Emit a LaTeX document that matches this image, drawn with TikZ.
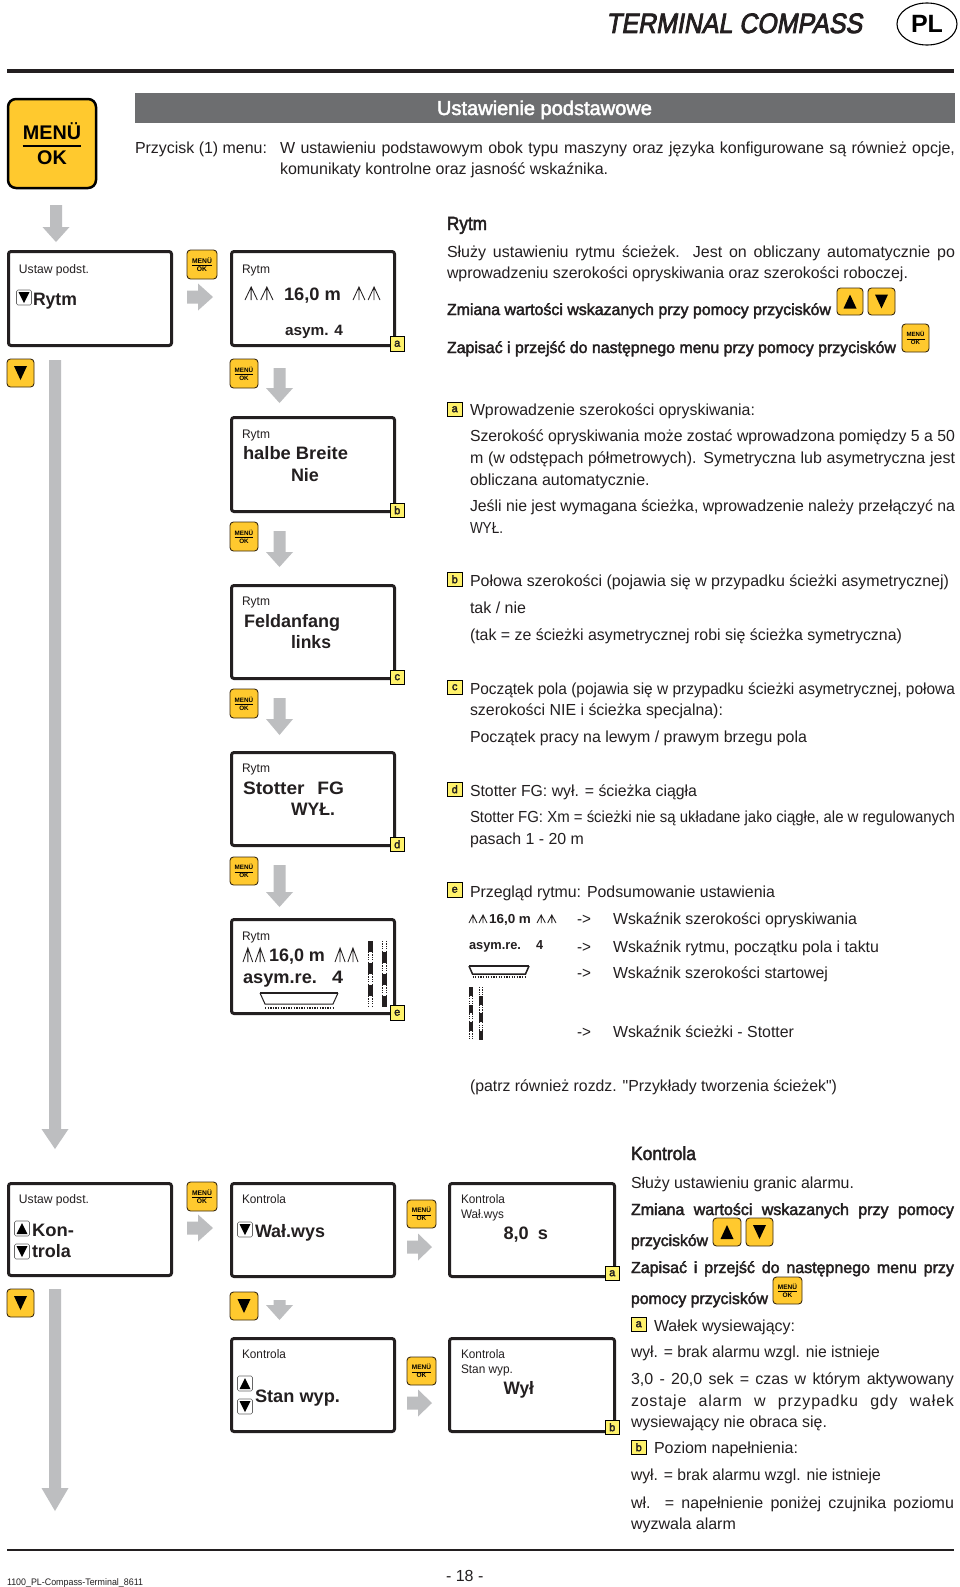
\documentclass[tikz,border=0pt]{standalone}
\usepackage{fontspec}
\usepackage{graphicx}
\usetikzlibrary{shapes.geometric}
\setmainfont{Liberation Sans}
\newfontfamily\plainq{Liberation Sans}
\newfontfamily\fakeb[FakeBold=2.4]{Liberation Sans}
\newfontfamily\titlef[FakeBold=3.2,FakeSlant=0.2]{Liberation Sans}
\definecolor{ink}{HTML}{231F20}
\definecolor{btnyel}{HTML}{FFC92E}
\definecolor{btnedge}{HTML}{3A2A10}
\definecolor{tagyel}{HTML}{FFF26B}
\definecolor{arrgray}{HTML}{BDBEC0}
\definecolor{headgray}{HTML}{6D6E70}
\newcounter{tn}
\newsavebox\fitsave
\newcommand\fitbox[2]{\sbox\fitsave{#2}\ifdim\wd\fitsave>#1pt\relax\resizebox{#1pt}{\height}{\usebox\fitsave}\else\makebox[#1pt][s]{#2}\fi}
\newcommand\shrinkbox[2]{\sbox\fitsave{#2}\ifdim\wd\fitsave>#1pt\relax\resizebox{#1pt}{\height}{\usebox\fitsave}\else\usebox\fitsave\fi}
\newcommand\bodyf{\fontsize{16}{19}\selectfont}
\newcommand\condf{\fontsize{16}{19}\selectfont\fakeb}
\newcommand\headf{\fontsize{19}{22}\selectfont\fakeb}
\newcommand\lcdsm{\fontsize{12.4}{14}\selectfont}
\newcommand\lcdbg{\fontsize{18}{21}\selectfont\bfseries}
% justified line: spaces stretch
\newcommand\jl[5][\bodyf]{\stepcounter{tn}\pgfmathsetmacro\fitw{#4-#2}\node[txt,font=#1] (t\thetn) at (#2,#3) {\fitbox{\fitw}{#5}};}
% free line: natural width, narrowed if it would pass the measured end
\newcommand\tl[5][\bodyf]{\stepcounter{tn}\pgfmathsetmacro\fitw{#4-#2}\node[txt,font=#1] (t\thetn) at (#2,#3) {\shrinkbox{\fitw}{#5}};}
\newcommand\sx[5][\lcdbg]{\stepcounter{tn}\pgfmathsetmacro\fitw{#4-#2}\node[txt,font=#1] (t\thetn) at (#2,#3) {\resizebox{\fitw pt}{\height}{#5}};}
\newcommand\lcd[5]{\pgfmathsetmacro\lw{#4-#2-3}\pgfmathsetmacro\lh{#5-#3-3}\node[lcdbox,minimum width=\lw pt,minimum height=\lh pt] (#1) at ({#2+1.5},{#3+1.5}) {};}
\newcommand\btnnode[6][btn]{\pgfmathsetmacro\bw{#5-#3}\pgfmathsetmacro\bh{#6-#4}\pgfmathsetmacro\bcx{(#5+#3)/2}\pgfmathsetmacro\bcy{(#6+#4)/2}\node[#1,minimum width=\bw pt,minimum height=\bh pt] (#2) at (\bcx,\bcy) {};}
\newcommand\menubtn[6][btn]{\btnnode[#1]{#2}{#3}{#4}{#5}{#6}\pgfmathsetmacro\bs{\bw/28.5}\pgfmathsetmacro\bfz{6.4*\bs}%
 \node[txt,anchor=base,text=black,font=\fontsize{\bfz}{\bfz}\selectfont\bfseries] (#2m) at (\bcx,{\bcy-1.4*\bs}) {MENÜ};%
 \node[txt,anchor=base,text=black,font=\fontsize{\bfz}{\bfz}\selectfont\bfseries] (#2o) at (\bcx,{\bcy+6.8*\bs}) {OK};%
 \draw[black,line width=0.6*\bs] ({\bcx-9.5*\bs},{\bcy+0.9*\bs}) -- ({\bcx+9.5*\bs},{\bcy+0.9*\bs});}
\newcommand\tri[5]{\fill[black] ({#1-#3/2},{#2-(#5)*#4/2}) -- ({#1+#3/2},{#2-(#5)*#4/2}) -- (#1,{#2+(#5)*#4/2}) -- cycle;}
\newcommand\tribtn[6]{\btnnode{#1}{#2}{#3}{#4}{#5}\tri{\bcx}{\bcy}{13}{14}{#6}}
\newcommand\minibox[4]{\node[minib] (#1) at ({#2+7.5},{#3+7.5}) {};\pgfmathsetmacro\mcx{#2+7.5}\pgfmathsetmacro\mcy{#3+7.5}\tri{\mcx}{\mcy}{11}{11}{#4}}
\newcommand\tagb[4]{\node[tagbox] (#1) at ({#2+7.25},{#3+7.25}) {#4};}
\newcommand\gdown[4]{\fill[arrgray] ({#1-6},#2) -- ({#1+6},#2) -- ({#1+6},#3) -- ({#1+13.5},#3) -- (#1,#4) -- ({#1-13.5},#3) -- ({#1-6},#3) -- cycle;}
\newcommand\gright[4]{\fill[arrgray] (#1,{#4-6.5}) -- (#2,{#4-6.5}) -- (#2,{#4-13.5}) -- (#3,#4) -- (#2,{#4+13.5}) -- (#2,{#4+6.5}) -- (#1,{#4+6.5}) -- cycle;}
\newcommand\caret[4]{\draw[ink,line width=0.85] (#1,#4) -- ({(#1+#2)/2},#3) -- (#2,#4) ({(#1+#2)/2},#3) -- ({(#1+#2)/2},#4);}
\newcommand\sprays[4]{\pgfmathsetmacro\sw{(#2-#1)*0.44}\caret{#1}{#1+\sw}{#3}{#4}\caret{#2-\sw}{#2}{#3}{#4}}
\newcommand\trap[8]{\draw[ink,line width=#7] (#1,#3) -- (#2,#3); \draw[ink,line width=#8] (#1,#3) -- ({#1+#5},#4) -- ({#2-#5},#4) -- (#2,#3); \draw[ink,line width=1.3,dash pattern=on 1.3 off 1.3] ({#1+#5},#6) -- ({#2-#5},#6);}
% column of the Stotter icon: x, ytop, width, segment height, first black?, segment count
\newcommand\stcol[6]{\foreach \i in {1,...,#6}{\pgfmathsetmacro\ya{#2+(\i-1)*#4}\pgfmathsetmacro\yb{#2+\i*#4}\pgfmathtruncatemacro\blk{mod(\i+#5+1,2)}%
 \ifnum\blk=0 \fill[ink] (#1,\ya) rectangle ({#1+#3},\yb);\else
 \draw[ink,line width=1.2,dash pattern=on 1.2 off 1.2] ({#1+0.7},\ya) -- ({#1+0.7},\yb) ({#1+#3-0.7},\ya) -- ({#1+#3-0.7},\yb);\fi}}
\tikzset{
 txt/.style={anchor=base west,inner sep=0,outer sep=0,text=ink},
 lcdbox/.style={draw=ink,fill=white,line width=3,rounded corners=2.5,anchor=north west,inner sep=0,outer sep=0},
 btn/.style={draw=btnedge,fill=btnyel,line width=0.9,rounded corners=3.5,inner sep=0,outer sep=0},
 bigbtn/.style={draw=black,fill=btnyel,line width=2.5,rounded corners=8,inner sep=0,outer sep=0},
 minib/.style={draw=black!60,fill=white,line width=0.6,rounded corners=1.5,minimum width=15pt,minimum height=15pt,inner sep=0,outer sep=0},
 tagbox/.style={draw=black,fill=tagyel,line width=0.8,minimum width=14.5pt,minimum height=14.5pt,inner sep=0,outer sep=0,text=ink,font=\fontsize{11}{11}\selectfont\fakeb},
}
\begin{document}
\begin{tikzpicture}[x=1pt,y=-1pt]
\useasboundingbox (0,0) rectangle (960,1587);
\fill[white] (0,0) rectangle (960,1587);
% page head
\sx[\fontsize{28}{30}\selectfont\titlef]{606}{33}{862}{TERMINAL COMPASS}
\node[draw=black,line width=1.1,ellipse,minimum width=60pt,minimum height=42pt,inner sep=0] (pl) at (927,24) {};
\node[txt,anchor=base,text=black,font=\fontsize{25}{25}\selectfont\bfseries] (plt) at (927,33) {PL};
\draw[ink,line width=4] (7,71) -- (954,71);
\node[fill=headgray,minimum width=820pt,minimum height=30pt,inner sep=0,outer sep=0] (hd) at (544.5,108) {};
\node[txt,text=white,font=\fontsize{20}{22}\selectfont\fakeb] (hdt) at (437,115) {\resizebox{215pt}{\height}{Ustawienie podstawowe}};
\menubtn[bigbtn]{bigm}{8}{99}{96}{188}
\tl{135}{153}{267}{Przycisk (1) menu:}
\jl{280}{153}{955}{W ustawieniu podstawowym obok typu maszyny oraz języka konfigurowane są również opcje,}
\tl{280}{174}{640}{komunikaty kontrolne oraz jasność wskaźnika.}
\gdown{56}{205}{227}{242}
% block 1 left
\lcd{l1}{7}{250}{173}{347}
\node[txt,font=\lcdsm] (l1a) at (19,273) {\resizebox{70pt}{\height}{Ustaw podst.}};
\minibox{l1d}{16.5}{290}{1}
\sx{33}{305}{77}{Rytm}
\menubtn{m1}{187}{250}{217}{279}
\gright{187}{198}{213}{297}
\lcd{l2}{230}{250}{396}{347}
\sx[\lcdsm]{242}{273}{270}{Rytm}
\sprays{245}{273}{287}{300}
\sx{284}{300}{341}{16,0 m}
\sprays{353}{380}{287}{300}
\sx[\fontsize{15}{17}\selectfont\bfseries]{285}{335}{343}{asym. 4}
\tagb{ta1}{390}{336.5}{a}
\tribtn{d1}{7}{359}{34}{387}{1}
\gdown{55}{360}{1129}{1149}
\menubtn{m2}{230}{359}{258}{388}
\gdown{279.5}{368}{388}{403}
\lcd{l3}{230}{416}{396}{513}
\sx[\lcdsm]{242}{438}{270}{Rytm}
\sx{243}{459}{348}{halbe Breite}
\sx{291}{481}{319}{Nie}
\tagb{tb1}{390}{503}{b}
\menubtn{m3}{230}{522}{258}{551}
\gdown{279.5}{531}{552}{567}
\lcd{l4}{230}{584}{396}{680}
\sx[\lcdsm]{242}{605}{270}{Rytm}
\sx{244}{627}{340}{Feldanfang}
\sx{291}{648}{331}{links}
\tagb{tc1}{390}{670}{c}
\menubtn{m4}{230}{689}{258}{718}
\gdown{279.5}{698}{719}{735}
\lcd{l5}{230}{751}{396}{847}
\sx[\lcdsm]{242}{772}{270}{Rytm}
\sx{243}{794}{344}{Stotter\hspace{12pt}FG}
\sx{291}{815}{335}{WYŁ.}
\tagb{td1}{390}{837}{d}
\menubtn{m5}{230}{857}{258}{885}
\gdown{279.5}{865}{892}{907}
\lcd{l6}{230}{918}{396}{1015}
\sx[\lcdsm]{242}{940}{270}{Rytm}
\sprays{243}{265}{948}{962}
\sx{269}{961}{325}{16,0 m}
\sprays{335}{358}{948}{962}
\sx{243}{983}{317}{asym.re.}
\sx{332}{983}{343}{4}
\trap{260}{338}{993}{1004}{5}{1008}{1.6}{1}
\stcol{368}{941}{5}{11}{0}{6}
\stcol{382}{941}{5}{11}{1}{6}
\tagb{te1}{390}{1005.5}{e}
% block 1 right
\sx[\headf]{447}{230}{487}{Rytm}
\jl{447}{257}{955}{Służy ustawieniu rytmu ścieżek. Jest on obliczany automatycznie po}
\tl{447}{278}{908}{wprowadzeniu szerokości opryskiwania oraz szerokości roboczej.}
\tl[\condf]{447}{315}{831}{Zmiana wartości wskazanych przy pomocy przycisków}
\tribtn{u2}{837}{288}{863}{315}{-1}
\tribtn{d2}{868}{288}{895}{315}{1}
\tl[\condf]{447}{353}{896}{Zapisać i przejść do następnego menu przy pomocy przycisków}
\menubtn{m6}{902}{324}{929}{352}
\tagb{ta2}{447.5}{402}{a}
\tl{470}{415}{755}{Wprowadzenie szerokości opryskiwania:}
\jl{470}{441.5}{955}{Szerokość opryskiwania może zostać wprowadzona pomiędzy 5 a 50}
\jl{470}{463}{955}{m (w odstępach półmetrowych). Symetryczna lub asymetryczna jest}
\tl{470}{485}{650}{obliczana automatycznie.}
\jl{470}{511}{955}{Jeśli nie jest wymagana ścieżka, wprowadzenie należy przełączyć na}
\tl{470}{533}{503}{WYŁ.}
\tagb{tb2}{447.5}{572}{b}
\tl{470}{586}{949}{Połowa szerokości (pojawia się w przypadku ścieżki asymetrycznej)}
\tl{470}{613}{526}{tak / nie}
\tl{470}{640}{902}{(tak = ze ścieżki asymetrycznej robi się ścieżka symetryczna)}
\tagb{tc2}{447.5}{680}{c}
\tl{470}{694}{955}{Początek pola (pojawia się w przypadku ścieżki asymetrycznej, połowa}
\tl{470}{715}{723}{szerokości NIE i ścieżka specjalna):}
\tl{470}{742}{807}{Początek pracy na lewym / prawym brzegu pola}
\tagb{td2}{447.5}{782}{d}
\tl{470}{796}{697}{Stotter FG: wył. = ścieżka ciągła}
\tl{470}{822}{955}{Stotter FG: Xm = ścieżki nie są układane jako ciągłe, ale w regulowanych}
\tl{470}{844}{584}{pasach 1 - 20 m}
\tagb{te2}{447.5}{882.5}{e}
\tl{470}{897}{775}{Przegląd rytmu: Podsumowanie ustawienia}
\sprays{469}{487}{915}{923}
\sx[\fontsize{13}{15}\selectfont\bfseries]{489}{923}{531}{16,0 m}
\sprays{537}{556}{915}{923}
\sx[\fontsize{13}{15}\selectfont\bfseries]{469}{949}{521}{asym.re.}
\sx[\fontsize{13}{15}\selectfont\bfseries]{536}{949}{543}{4}
\trap{469}{529}{966}{974}{3.5}{977}{2.2}{1.5}
\stcol{469}{987}{4}{8.8}{0}{6}
\stcol{479}{987}{4}{8.8}{1}{6}
\tl{577}{924.5}{591}{->}
\tl{613}{924.5}{857}{Wskaźnik szerokości opryskiwania}
\tl{577}{952}{591}{->}
\tl{613}{952}{879}{Wskaźnik rytmu, początku pola i taktu}
\tl{577}{978}{591}{->}
\tl{613}{978}{828}{Wskaźnik szerokości startowej}
\tl{577}{1037}{591}{->}
\tl{613}{1037}{794}{Wskaźnik ścieżki - Stotter}
\tl{470}{1091}{837}{(patrz również rozdz. {\plainq "}Przykłady tworzenia ścieżek{\plainq "})}
% block 2 left
\lcd{l7}{7}{1182}{173}{1277}
\node[txt,font=\lcdsm] (l7a) at (19,1203) {\resizebox{70pt}{\height}{Ustaw podst.}};
\minibox{l7u}{14.5}{1221}{-1}
\sx{32}{1236}{74}{Kon-}
\minibox{l7d}{14.5}{1244}{1}
\sx{32}{1257}{71}{trola}
\menubtn{m7}{187}{1182}{217}{1211}
\gright{187}{198}{213}{1228}
\lcd{l8}{230}{1182}{396}{1278}
\sx[\lcdsm]{242}{1203}{286}{Kontrola}
\minibox{l8d}{237.5}{1222}{1}
\sx{255}{1237}{325}{Wał.wys}
\tribtn{d3}{7}{1289}{34}{1317}{1}
\gdown{55}{1289}{1488}{1511}
\tribtn{d4}{230}{1292}{258}{1320}{1}
\gdown{279.5}{1300}{1305}{1320}
\lcd{l9}{230}{1337}{396}{1433}
\sx[\lcdsm]{242}{1358}{286}{Kontrola}
\minibox{l9u}{237.5}{1376}{-1}
\minibox{l9d}{237.5}{1399}{1}
\sx{255}{1402}{340}{Stan wyp.}
\menubtn{m8}{407}{1200}{436}{1228}
\gright{407}{418}{432}{1247}
\lcd{l10}{448}{1182}{616}{1278}
\sx[\lcdsm]{461}{1203}{505}{Kontrola}
\sx[\lcdsm]{461}{1218}{504}{Wał.wys}
\sx{503.5}{1239}{548}{8,0\hspace{9pt}s}
\tagb{ta3}{605}{1266}{a}
\menubtn{m9}{407}{1357}{436}{1385}
\gright{407}{418}{432}{1403}
\lcd{l11}{448}{1337}{616}{1433}
\sx[\lcdsm]{461}{1358}{505}{Kontrola}
\sx[\lcdsm]{461}{1373}{513}{Stan wyp.}
\sx{503.5}{1394}{534}{Wył}
\tagb{tb3}{605}{1420}{b}
% block 2 right
\sx[\headf]{631}{1160}{696}{Kontrola}
\tl{631}{1188}{854}{Służy ustawieniu granic alarmu.}
\jl[\condf]{631}{1215}{954}{Zmiana wartości wskazanych przy pomocy}
\sx[\condf]{631}{1246}{708}{przycisków}
\tribtn{u5}{713}{1218}{741}{1246}{-1}
\tribtn{d5}{746}{1218}{773}{1246}{1}
\jl[\condf]{631}{1273}{954}{Zapisać i przejść do następnego menu przy}
\tl[\condf]{631}{1304}{768}{pomocy przycisków}
\menubtn{m10}{773}{1277}{802}{1304}
\tagb{ta4}{631.5}{1317}{a}
\tl{654}{1331}{795}{Wałek wysiewający:}
\tl{631}{1357}{880}{wył. = brak alarmu wzgl. nie istnieje}
\jl{631}{1384}{954}{3,0 - 20,0 sek = czas w którym aktywowany}
\jl{631}{1406}{954}{\addfontfeature{LetterSpace=5}zostaje alarm w przypadku gdy wałek}
\tl{631}{1427}{827}{wysiewający nie obraca się.}
\tagb{tb4}{631.5}{1440}{b}
\tl{654}{1453}{798}{Poziom napełnienia:}
\tl{631}{1480.5}{881}{wył. = brak alarmu wzgl. nie istnieje}
\jl{631}{1508}{954}{wł. = napełnienie poniżej czujnika poziomu}
\tl{631}{1529}{736}{wyzwala alarm}
% page foot
\draw[ink,line width=2.5] (7,1550) -- (954,1550);
\tl{446}{1581}{484}{- 18 -}
\node[txt,font=\fontsize{9.5}{11}\selectfont] (code) at (7,1585) {\resizebox{136pt}{\height}{1100\_PL-Compass-Terminal\_8611}};
\end{tikzpicture}
\end{document}
